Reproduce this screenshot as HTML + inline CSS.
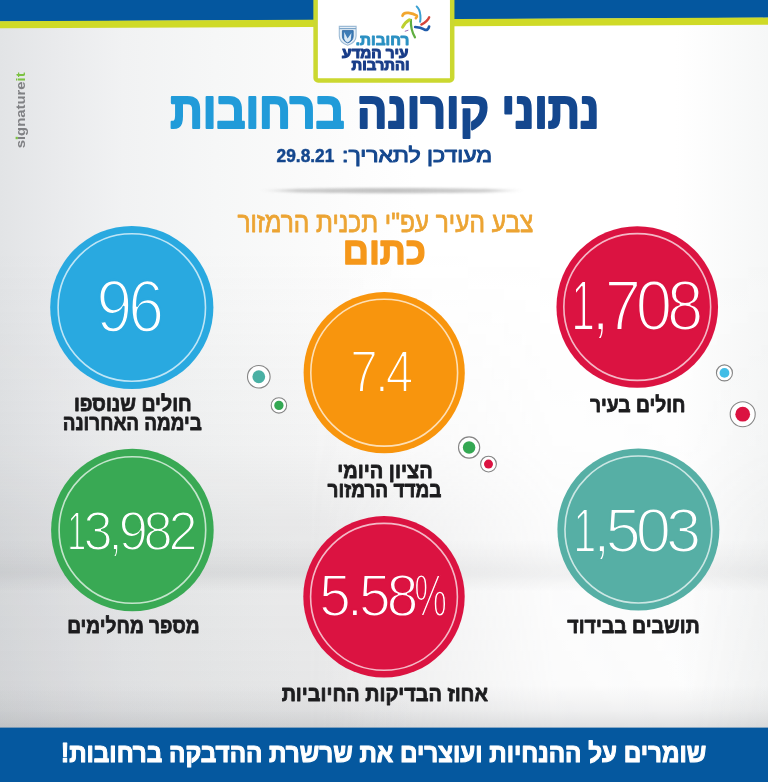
<!DOCTYPE html>
<html lang="he">
<head>
<meta charset="utf-8">
<title>נתוני קורונה ברחובות</title>
<style>
html,body{margin:0;padding:0;background:#fff}
body{width:768px;height:782px;overflow:hidden;font-family:"Liberation Sans","DejaVu Sans",sans-serif}
svg{display:block;position:absolute;left:0;top:0}
text{font-family:"Liberation Sans","DejaVu Sans",sans-serif}
.b{font-weight:bold}
</style>
</head>
<body>
<svg width="768" height="782" viewBox="0 0 768 782">
<defs>
  <linearGradient id="bgH" x1="0" y1="0" x2="1" y2="0">
    <stop offset="0" stop-color="#e2e4e6"/>
    <stop offset="0.08" stop-color="#eaebed"/>
    <stop offset="0.16" stop-color="#f1f2f3"/>
    <stop offset="0.28" stop-color="#f6f7f7"/>
    <stop offset="0.42" stop-color="#fbfbfb"/>
    <stop offset="0.54" stop-color="#ffffff"/>
    <stop offset="0.88" stop-color="#ffffff"/>
    <stop offset="1" stop-color="#f6f7f7"/>
  </linearGradient>
  <linearGradient id="profA" gradientUnits="userSpaceOnUse" x1="0" y1="250" x2="0" y2="728">
    <stop offset="0.0000" stop-color="#8e9094" stop-opacity="0"/>
    <stop offset="0.4184" stop-color="#8e9094" stop-opacity="0.07"/>
    <stop offset="0.5649" stop-color="#8e9094" stop-opacity="0.16"/>
    <stop offset="0.6485" stop-color="#8e9094" stop-opacity="0.18"/>
    <stop offset="0.6736" stop-color="#8e9094" stop-opacity="0.2"/>
    <stop offset="0.6904" stop-color="#8e9094" stop-opacity="0.17"/>
    <stop offset="0.7113" stop-color="#8e9094" stop-opacity="0.15"/>
    <stop offset="0.8368" stop-color="#8e9094" stop-opacity="0.17"/>
    <stop offset="0.9414" stop-color="#8e9094" stop-opacity="0.19"/>
    <stop offset="1.0000" stop-color="#8e9094" stop-opacity="0.2"/>
  </linearGradient>
  <linearGradient id="profB" gradientUnits="userSpaceOnUse" x1="0" y1="540" x2="0" y2="728">
    <stop offset="0.0000" stop-color="#8e9094" stop-opacity="0"/>
    <stop offset="0.1489" stop-color="#8e9094" stop-opacity="0.09"/>
    <stop offset="0.1915" stop-color="#8e9094" stop-opacity="0.09"/>
    <stop offset="0.2766" stop-color="#8e9094" stop-opacity="0.0"/>
    <stop offset="0.7713" stop-color="#8e9094" stop-opacity="0.0"/>
    <stop offset="0.9043" stop-color="#8e9094" stop-opacity="0.1"/>
    <stop offset="1.0000" stop-color="#8e9094" stop-opacity="0.25"/>
  </linearGradient>
  <linearGradient id="mAg" x1="0" y1="0" x2="1" y2="0">
    <stop offset="0" stop-color="#fff"/>
    <stop offset="0.40" stop-color="#fff"/>
    <stop offset="0.55" stop-color="#a8a8a8"/>
    <stop offset="0.72" stop-color="#343434"/>
    <stop offset="0.9" stop-color="#222222"/>
    <stop offset="1" stop-color="#4a4a4a"/>
  </linearGradient>
  <mask id="mA" maskUnits="userSpaceOnUse" x="0" y="0" width="768" height="782"><rect x="0" y="0" width="768" height="782" fill="url(#mAg)"/></mask>
  <linearGradient id="shad" x1="0" y1="0" x2="1" y2="0">
    <stop offset="0" stop-color="#8c8c8c" stop-opacity="0"/>
    <stop offset="0.14" stop-color="#8c8c8c" stop-opacity="0.42"/>
    <stop offset="0.5" stop-color="#8c8c8c" stop-opacity="0.52"/>
    <stop offset="0.86" stop-color="#8c8c8c" stop-opacity="0.42"/>
    <stop offset="1" stop-color="#8c8c8c" stop-opacity="0"/>
  </linearGradient>
  <filter id="blur1" x="-5%" y="-200%" width="110%" height="500%"><feGaussianBlur stdDeviation="2.2 1.3"/></filter>
</defs>

<!-- background -->
<rect x="0" y="0" width="768" height="782" fill="url(#bgH)"/>
<g mask="url(#mA)"><rect x="0" y="250" width="768" height="478" fill="url(#profA)"/></g>
<rect x="0" y="540" width="768" height="188" fill="url(#profB)"/>

<!-- header bar -->
<polygon points="0,0 768,0 768,17.800 0,21.400" fill="#04579f"/>
<polygon points="0,21.200 768,17.600 768,24.800 0,28.300" fill="#cfda27"/>
<rect x="315.6" y="-6" width="136.6" height="86.5" rx="2.5" ry="2.5" fill="#ffffff" stroke="#cbd830" stroke-width="4.5"/>

<!-- logo -->
<g id="logo">
  <text transform="translate(409.31 45.2) scale(1.0098 1)" font-weight="bold" font-size="15.2" fill="#2a90c2" direction="rtl" text-anchor="start" stroke="#2a90c2" stroke-width="0.9" stroke-linejoin="round" >רחובות.</text>
  <text transform="translate(408.50 58.1) scale(0.9754 1)" font-weight="bold" font-size="15.6" fill="#183c88" direction="rtl" text-anchor="start" stroke="#183c88" stroke-width="1.1" stroke-linejoin="round" >עיר המדע</text>
  <text transform="translate(409.49 69.7) scale(0.9914 1)" font-weight="bold" font-size="15" fill="#183c88" direction="rtl" text-anchor="start" stroke="#183c88" stroke-width="1.1" stroke-linejoin="round" >והתרבות</text>
  <!-- shield -->
  <path d="M339.3 26.4 h16.8 v9.500 q0 6.500 -8.400 9.300 q-8.400 -2.800 -8.400 -9.300 z" fill="#e6eff7" stroke="#9dbbd6" stroke-width="1.1"/>
  <path d="M339.3 28.6 h16.8" stroke="#7fa6c9" stroke-width="1.2" fill="none"/>
  <path d="M342.4 30.600 h10.800 v5.600 q0 4.600 -5.400 6.800 q-5.400 -2.200 -5.400 -6.800 z" fill="#3e7cb6" stroke="#2c649f" stroke-width="0.8"/>
  <path d="M344.2 32 l3.400 6.500 l3.800 -5.500 l-0.600 6.800 q-1.400 2 -3.400 2.600 q-2.400 -1 -3.200 -3.600 z" fill="#dbe9f5"/>
  <!-- star figure -->
  <g fill="none" stroke-linecap="round" stroke-linejoin="round">
    <path d="M402.5 15.8 q0.800 -3.600 6 -2.900 q4.800 0.700 8.300 2.700 q0.600 1.300 -0.900 2.500" stroke="#f2a62e" stroke-width="2.7"/>
    <path d="M416.700 6.500 q3.100 2.600 3.700 9 q0.300 3.400 -0.300 6.300" stroke="#3aa0d2" stroke-width="2"/>
    <path d="M429.200 17.300 q-1.700 4.200 -7.900 7.300" stroke="#d3443a" stroke-width="2.300"/>
    <path d="M415.200 27 q5.500 0.300 9 2.400 q4 1.600 4.900 -2.900" stroke="#1f5baa" stroke-width="2.700"/>
    <path d="M410.900 19.800 q-0.500 10 4.100 17.500" stroke="#5fae40" stroke-width="2.200"/>
    <path d="M409.300 19.800 q-4.200 2.200 -6.700 7.400" stroke="#bdd02f" stroke-width="3"/>
    <path d="M405.200 31.200 l2.800 -0.900" stroke="#9a6fb0" stroke-width="1"/>
  </g>
</g>

<!-- signatureit -->
<text transform="translate(25.4 148.3) rotate(-90)" font-size="13.6" class="b" fill="#808184" textLength="76" lengthAdjust="spacingAndGlyphs">signature<tspan fill="#7cc243">it</tspan></text>
<rect x="15.6" y="136.8" width="2.2" height="2.4" fill="#7cc243"/>

<!-- title -->
<text transform="translate(599.34 127.9) scale(0.8793 1)" font-weight="bold" font-size="51" fill="#14478e" direction="rtl" text-anchor="start" stroke="#14478e" stroke-width="2.2" stroke-linejoin="round" >נתוני קורונה</text>
<text transform="translate(344.49 127.9) scale(0.8882 1)" font-weight="bold" font-size="51" fill="#219bd9" direction="rtl" text-anchor="start" stroke="#219bd9" stroke-width="2.2" stroke-linejoin="round" >ברחובות</text>
<text transform="translate(492.12 161.8) scale(1.1174 1)" font-weight="normal" font-size="20.6" fill="#14478e" direction="rtl" text-anchor="start" stroke="#14478e" stroke-width="1.0" stroke-linejoin="round" >מעודכן לתאריך:</text>
<text transform="translate(276.60 161.8) scale(0.9206 1)" font-weight="bold" font-size="18.8" fill="#14478e" stroke="#14478e" stroke-width="0.5" stroke-linejoin="round" >29.8.21</text>

<!-- shadow divider -->
<ellipse cx="392" cy="190.600" rx="131" ry="2.600" fill="url(#shad)" filter="url(#blur1)"/>

<!-- section heading -->
<text transform="translate(533.37 232) scale(0.8734 1)" font-weight="normal" font-size="28" fill="#eca433" direction="rtl" text-anchor="start" stroke="#eca433" stroke-width="0.8" stroke-linejoin="round" >צבע העיר עפ"י תכנית הרמזור</text>
<text transform="translate(425.95 264) scale(0.9548 1)" font-weight="bold" font-size="38" fill="#f5971a" direction="rtl" text-anchor="start" stroke="#f5971a" stroke-width="1.4" stroke-linejoin="round" >כתום</text>

<!-- circles -->
<g id="c1">
  <circle cx="131.8" cy="307.5" r="81.6" fill="#29a9e0"/>
  <circle cx="131.8" cy="307.5" r="73.7" fill="none" stroke="#fff" stroke-opacity="0.7" stroke-width="1.6"/>
  <text transform="translate(96.46 332) scale(0.8676 1)" font-weight="normal" font-size="74" fill="#fff" letter-spacing="-4.5" stroke="#29a9e0" stroke-width="2.4" stroke-linejoin="round" paint-order="fill stroke" >96</text>
  <text transform="translate(191.73 411.3) scale(0.9306 1)" font-weight="bold" font-size="21" fill="#1c1c1e" direction="rtl" text-anchor="start" stroke="#1c1c1e" stroke-width="0.8" stroke-linejoin="round" >חולים שנוספו</text>
  <text transform="translate(201.90 430.2) scale(0.9000 1)" font-weight="bold" font-size="21" fill="#1c1c1e" direction="rtl" text-anchor="start" stroke="#1c1c1e" stroke-width="0.8" stroke-linejoin="round" >ביממה האחרונה</text>
</g>
<g id="c2">
  <circle cx="637.25" cy="307.0" r="80.8" fill="#db1341"/>
  <circle cx="637.25" cy="307.0" r="73.4" fill="none" stroke="#fff" stroke-opacity="0.7" stroke-width="1.6"/>
  <text transform="translate(571.26 329.9) scale(0.9338 1)" font-weight="normal" font-size="70" fill="#fff" letter-spacing="-5.5" stroke="#db1341" stroke-width="2.2" stroke-linejoin="round" paint-order="fill stroke" ><tspan textLength="21.8" lengthAdjust="spacingAndGlyphs">1</tspan>,708</text>
  <text transform="translate(685.52 411.9) scale(0.9165 1)" font-weight="bold" font-size="21" fill="#1c1c1e" direction="rtl" text-anchor="start" stroke="#1c1c1e" stroke-width="0.8" stroke-linejoin="round" >חולים בעיר</text>
</g>
<g id="c3">
  <circle cx="384.2" cy="372.7" r="80.6" fill="#f8950d"/>
  <circle cx="384.2" cy="372.7" r="73.4" fill="none" stroke="#fff" stroke-opacity="0.7" stroke-width="1.6"/>
  <text transform="translate(350.27 391.8) scale(0.8319 1)" font-weight="normal" font-size="59.5" fill="#fff" letter-spacing="-3.5" stroke="#f8950d" stroke-width="2.0" stroke-linejoin="round" paint-order="fill stroke" >7.4</text>
  <text transform="translate(432.65 477.6) scale(0.9531 1)" font-weight="bold" font-size="21" fill="#1c1c1e" direction="rtl" text-anchor="start" stroke="#1c1c1e" stroke-width="0.8" stroke-linejoin="round" >הציון היומי</text>
  <text transform="translate(441.50 496.6) scale(0.9048 1)" font-weight="bold" font-size="21" fill="#1c1c1e" direction="rtl" text-anchor="start" stroke="#1c1c1e" stroke-width="0.8" stroke-linejoin="round" >במדד הרמזור</text>
</g>
<g id="c4">
  <circle cx="132.4" cy="530.0" r="81.3" fill="#39a954"/>
  <circle cx="132.4" cy="530.0" r="73.3" fill="none" stroke="#fff" stroke-opacity="0.7" stroke-width="1.6"/>
  <text transform="translate(67.30 549.7) scale(0.9338 1)" font-weight="normal" font-size="56" fill="#fff" letter-spacing="-4.5" stroke="#39a954" stroke-width="1.8" stroke-linejoin="round" paint-order="fill stroke" ><tspan textLength="17.3" lengthAdjust="spacingAndGlyphs">1</tspan>3,982</text>
  <text transform="translate(199.61 633.2) scale(0.9105 1)" font-weight="bold" font-size="21" fill="#1c1c1e" direction="rtl" text-anchor="start" stroke="#1c1c1e" stroke-width="0.8" stroke-linejoin="round" >מספר מחלימים</text>
</g>
<g id="c5">
  <circle cx="638.4" cy="529.5" r="81.0" fill="#56afa5"/>
  <circle cx="638.4" cy="529.5" r="73.45" fill="none" stroke="#fff" stroke-opacity="0.7" stroke-width="1.6"/>
  <text transform="translate(573.21 551.8) scale(0.9967 1)" font-weight="normal" font-size="63.5" fill="#fff" letter-spacing="-5" stroke="#56afa5" stroke-width="2.0" stroke-linejoin="round" paint-order="fill stroke" ><tspan textLength="19.8" lengthAdjust="spacingAndGlyphs">1</tspan>,503</text>
  <text transform="translate(699.63 633.4) scale(0.9275 1)" font-weight="bold" font-size="21" fill="#1c1c1e" direction="rtl" text-anchor="start" stroke="#1c1c1e" stroke-width="0.8" stroke-linejoin="round" >תושבים בבידוד</text>
</g>
<g id="c6">
  <circle cx="384.0" cy="596.8" r="80.7" fill="#db1341"/>
  <circle cx="384.0" cy="596.8" r="73.4" fill="none" stroke="#fff" stroke-opacity="0.7" stroke-width="1.6"/>
  <text transform="translate(319.35 616.1) scale(0.9614 1)" font-weight="normal" font-size="59" fill="#fff" letter-spacing="-4" stroke="#db1341" stroke-width="1.8" stroke-linejoin="round" paint-order="fill stroke" >5.58<tspan textLength="31.4" lengthAdjust="spacingAndGlyphs">%</tspan></text>
  <text transform="translate(488.00 700.8) scale(0.9434 1)" font-weight="bold" font-size="21" fill="#1c1c1e" direction="rtl" text-anchor="start" stroke="#1c1c1e" stroke-width="0.8" stroke-linejoin="round" >אחוז הבדיקות החיוביות</text>
</g>

<!-- small dots -->
<g id="dots" fill="#fff" stroke="#858585" stroke-width="1.1">
  <circle cx="724.45" cy="372.9" r="8.0"/><circle cx="724.45" cy="372.9" r="4.9" fill="#42bde6" stroke="none"/>
  <circle cx="742.7" cy="414.2" r="12.5"/><circle cx="742.7" cy="414.2" r="7.4" fill="#db1341" stroke="none"/>
  <circle cx="258.8" cy="376.75" r="11.3"/><circle cx="258.8" cy="376.75" r="6.4" fill="#4ab0a4" stroke="none"/>
  <circle cx="278.9" cy="405.4" r="7.7"/><circle cx="278.9" cy="405.4" r="4.65" fill="#34a853" stroke="none"/>
  <circle cx="469.1" cy="447.5" r="10.6"/><circle cx="469.1" cy="447.5" r="6.25" fill="#34a853" stroke="none"/>
  <circle cx="488.5" cy="464.1" r="7.9"/><circle cx="488.5" cy="464.1" r="4.5" fill="#db1341" stroke="none"/>
</g>

<!-- footer -->
<rect x="0" y="727.6" width="768" height="55" fill="#05589f"/>
<text transform="translate(706.30 761.6) scale(0.9042 1)" font-weight="bold" font-size="26.8" fill="#fff" direction="rtl" text-anchor="start" stroke="#fff" stroke-width="1.1" stroke-linejoin="round" >שומרים על ההנחיות ועוצרים את שרשרת ההדבקה ברחובות!</text>
</svg>
</body>
</html>
